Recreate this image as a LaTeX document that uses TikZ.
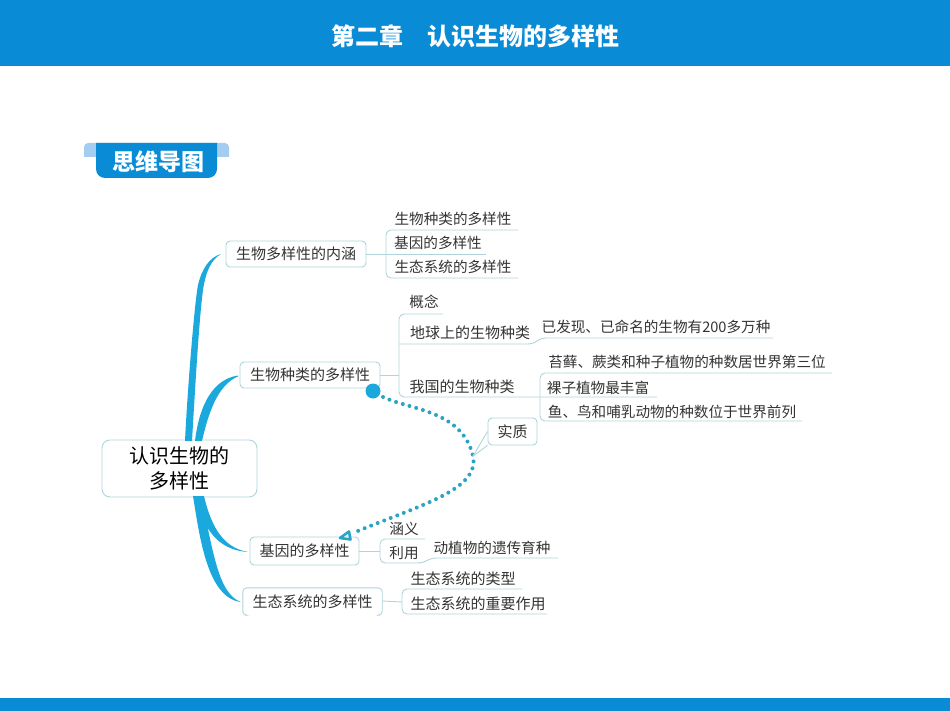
\documentclass[tikz,border=0pt]{standalone}
\usepackage{fontspec}
\setmainfont{Noto Sans CJK SC}
\usetikzlibrary{arrows.meta}
\definecolor{barblue}{HTML}{0A8BD6}
\definecolor{earblue}{HTML}{A5CDF0}
\definecolor{trunkblue}{HTML}{1BA8DC}
\definecolor{dotblue}{HTML}{2BA3C4}
\definecolor{boxline}{HTML}{AFD4D9}
\definecolor{inkgray}{HTML}{333333}
\tikzset{
  topic/.style={draw=boxline, line width=0.9pt, rounded corners=4pt, text=inkgray, font=\fontsize{15}{16}\selectfont, inner sep=0pt},
  leaf/.style={text=inkgray, inner sep=0pt},
  twig/.style={draw=boxline, line width=0.9pt, rounded corners=5pt},
  trunk/.style={fill=trunkblue, draw=none},
}
\begin{document}
\begin{tikzpicture}[x=1pt, y=-1pt]
\useasboundingbox (0, 0) rectangle (950, 711);

% 1. header and footer
\fill[barblue] (0, 0) rectangle (950, 66);
\fill[barblue] (0, 698) rectangle (950, 711);
\node[white, font=\fontsize{24}{26}\selectfont\bfseries] (title) at (475, 36) {第二章\hspace{1em}认识生物的多样性};

% 2. badge
\fill[earblue, rounded corners=4pt] (84, 157) -- (84, 143) -- (229, 143) -- (229, 157);
\fill[earblue] (84, 150) rectangle (229, 157);
\fill[barblue, rounded corners=9pt] (96, 143) -- (96, 178) -- (217, 178) -- (217, 143);
\fill[barblue] (99, 143) rectangle (214, 150);
\node[white, font=\fontsize{23}{25}\selectfont\bfseries] (badge) at (158.5, 162) {思维导图};

% 3. main topics
\node[topic, minimum width=155pt, minimum height=57pt, align=center, rounded corners=8pt,
      text=black, font=\fontsize{20}{25}\selectfont] (root) at (179.5, 468.5) {认识生物的\\多样性};
\node[topic, minimum width=140pt, minimum height=26pt] (inner) at (296, 254) {生物多样性的内涵};
\node[topic, minimum width=140pt, minimum height=26pt] (kinds) at (310, 375) {生物种类的多样性};
\node[topic, minimum width=109pt, minimum height=28pt] (genes) at (304.5, 551) {基因的多样性};
\node[leaf, font=\fontsize{15}{16}\selectfont, minimum width=139pt, minimum height=27pt] (eco) at (312.5, 601.5) {生态系统的多样性};
\draw[boxline, line width=0.9pt, rounded corners=4pt]
  ([xshift=2pt]eco.south west) -- (eco.south west) -- (eco.north west)
  -- (eco.north east) -- (eco.south east) -- ([xshift=-2pt]eco.south east);

% 4. thick branches
\fill[trunk] (185, 441) .. controls (188, 380) and (195, 300) .. (198, 285)
  .. controls (202, 268) and (210, 257) .. (221, 254)
  .. controls (212, 259) and (206, 270) .. (203, 290)
  .. controls (199, 320) and (195, 390) .. (192, 441) -- cycle;
\fill[trunk] (195, 441) .. controls (198, 415) and (208, 380) .. (238, 375.5)
  -- (238, 376.5) .. controls (217, 385) and (208, 415) .. (202, 441) -- cycle;
\fill[trunk] (194, 496) .. controls (203, 525) and (215, 550) .. (248, 552)
  .. controls (225, 548) and (212, 530) .. (204, 496) -- cycle;
\fill[trunk] (193, 496) .. controls (200, 540) and (208, 598) .. (241, 602)
  .. controls (218, 594) and (213, 550) .. (201, 496) -- cycle;

% 5. leaves: name / x / y / size / text
\foreach \name/\x/\y/\size/\txt in
    {a1/453/219/14.6/生物种类的多样性, a2/438/243/14.6/基因的多样性, a3/453/267/14.6/生态系统的多样性,
     b1/424/302/14.6/概念, b2/470/333/15/地球上的生物种类, b3/462/387/15/我国的生物种类,
     b4/656/327/14.6/已发现、已命名的生物有200多万种,
     b5/687/362/14.6/苔藓、蕨类和种子植物的种数居世界第三位,
     b6/598/388/14.6/裸子植物最丰富, b7/672/412/14.6/鱼、鸟和哺乳动物的种数位于世界前列,
     c1/404/529/14.6/涵义, c2/404/553/14.6/利用, c3/492/548/14.6/动植物的遗传育种,
     d1/463/579/15/生态系统的类型, d2/478/604/15/生态系统的重要作用}
    {\node[leaf, font=\fontsize{\size}{16}\selectfont] (\name) at (\x, \y) {\txt};
    }
\node[topic, minimum width=49pt, minimum height=27pt] (essence) at (512.5, 431.5) {实质};

% 6. rules under the leaves
\coordinate (aend1) at (518, 230);
\coordinate (aend2) at (486, 254);
\coordinate (aend3) at (518, 278);
\draw[twig] (aend1) -- (386, 230) -- (386, 278) -- (aend3);
\draw[twig] (inner.east) -- (aend2);
\coordinate (bend1) at (443, 314);
\coordinate (bend2) at (773, 338);
\coordinate (bend3) at (657, 397);
\draw[twig] (bend1) -- (399, 314) -- (399, 397) -- (bend3);
\draw[twig] (399, 344) -- (533, 344) -- (541, 338) -- (bend2);
\draw[twig] (kinds.east) -- (399, 375);
\coordinate (bend5) at (832, 373);
\coordinate (bend7) at (802, 421);
\draw[twig] (bend5) -- (540, 373) -- (540, 421) -- (bend7);
\coordinate (cend1) at (425, 539);
\coordinate (cend3) at (558, 558);
\draw[twig] (cend1) -- (380, 539) -- (380, 563) -- (423, 563) -- (431, 558) -- (cend3);
\draw[twig] (genes.east) -- (380, 551);
\coordinate (dend1) at (522, 589);
\coordinate (dend2) at (547, 614);
\draw[twig] (dend1) -- (402, 589) -- (402, 614) -- (dend2);
\draw[twig] ([yshift=0.5pt]eco.east) -- (402, 602);

% 7. dotted link with its note
\coordinate (bend) at (473, 456);
\fill[trunkblue] (373, 391) circle (7.5);
\draw[dotblue, line width=4pt, line cap=round, dash pattern=on 0pt off 7pt]
  (383, 397) .. controls (410, 410) and (462, 410) .. (bend)
  .. controls (480, 490) and (420, 505) .. (353, 533);
\draw[dotblue, line width=2.6pt, line join=round] (349, 531.5) -- (340, 538) -- (350.5, 539.5) -- cycle;
\draw[boxline, line width=0.9pt] (bend) -- (essence.west);
\draw[boxline, line width=0.9pt] (bend) -- (essence.south west);
\end{tikzpicture}
\end{document}
